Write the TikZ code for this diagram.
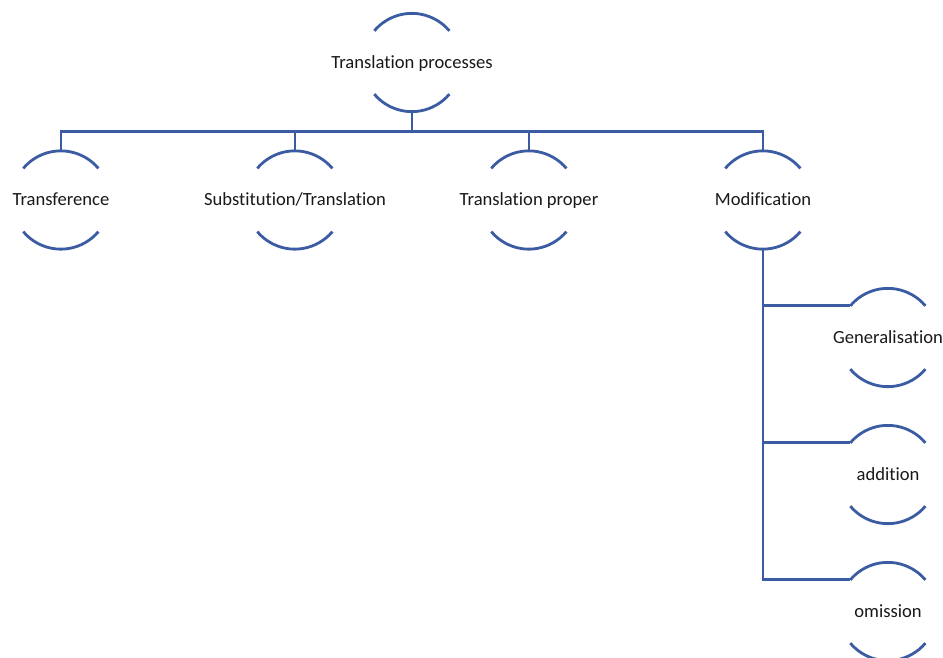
\documentclass[tikz,border=0pt]{standalone}
\usepackage{fontspec}
\setmainfont[Ligatures=NoCommon]{Carlito}
\definecolor{lineblue}{HTML}{3B5CA3}
\tikzset{
  unit/.style={circle, minimum size=98pt, inner sep=0pt, font=\fontsize{18.6}{22}\selectfont, text=black!90},
  arcline/.style={draw=lineblue, line width=2.8pt},
  conn/.style={draw=lineblue, line width=2.8pt}
}
\newcommand{\ringarcs}[1]{%
  \draw[arcline] (#1.140) arc[start angle=140, end angle=40, radius=49pt];
  \draw[arcline] (#1.-140) arc[start angle=-140, end angle=-40, radius=49pt];
}
\newcommand{\zw}[1]{\makebox[0pt]{\vphantom{T}\smash{#1}}}
\begin{document}
\begin{tikzpicture}[x=1pt,y=1pt]
\useasboundingbox (0,0) rectangle (943,-657);
\node[unit] (top) at (412,-62.5) {\zw{Translation processes}};
\node[unit] (tr) at (61,-200) {\zw{Transference}};
\node[unit] (sub) at (295,-200) {\zw{Substitution/Translation}};
\node[unit] (prop) at (529,-200) {\zw{Translation proper}};
\node[unit] (mod) at (763,-200) {\zw{Modification}};
\node[unit] (gen) at (888,-337.5) {\zw{Generalisation}};
\node[unit] (add) at (888,-474.5) {\zw{addition}};
\node[unit] (om) at (888,-611.5) {\zw{omission}};
\foreach \n in {top,tr,sub,prop,mod,gen,add,om}{\ringarcs{\n}}
\draw[conn] (top.south) -- ++(0,-19.5) -| (tr.north);
\draw[conn] (top.south) -- ++(0,-19.5) -| (sub.north);
\draw[conn] (top.south) -- ++(0,-19.5) -| (prop.north);
\draw[conn] (top.south) -- ++(0,-19.5) -| (mod.north);
\draw[conn] (mod.south) |- (gen.140);
\draw[conn] (mod.south) |- (add.140);
\draw[conn] (mod.south) |- (om.140);
\end{tikzpicture}
\end{document}
